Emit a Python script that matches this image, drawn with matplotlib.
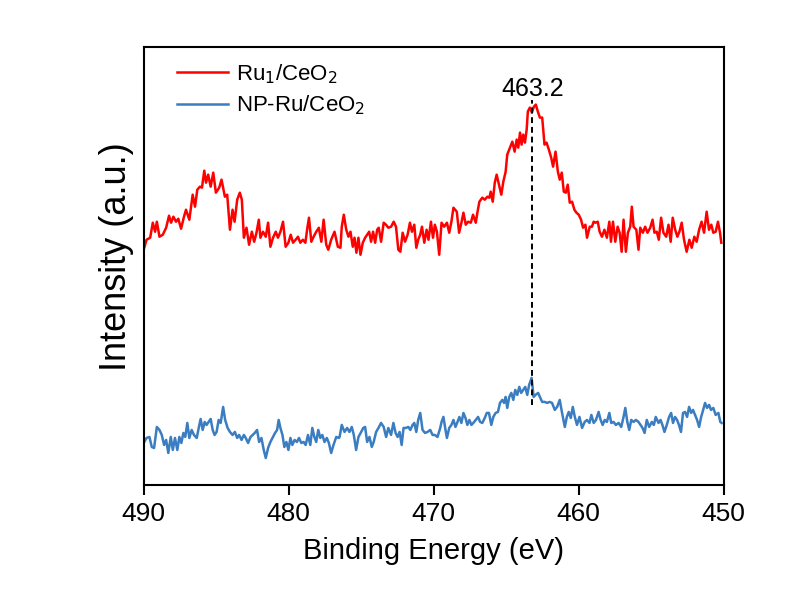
import numpy as np
import matplotlib
matplotlib.use('Agg')
import matplotlib.pyplot as plt

plt.rcParams['font.family'] = ['Liberation Sans', 'DejaVu Sans']

# Ru 3p XPS region (arbitrary units)
be_ru1 = [490.0, 489.8, 489.55, 489.37, 489.21, 489.09, 488.91, 488.68, 488.45,
          488.25, 488.11, 487.95, 487.77, 487.61, 487.42, 487.22, 487.08,
          486.85, 486.62, 486.46, 486.3, 486.12, 485.98, 485.82, 485.7,
          485.55, 485.38, 485.2, 485.02, 484.79, 484.63, 484.4, 484.24,
          484.05, 483.87, 483.73, 483.55, 483.37, 483.23, 483.09, 482.91,
          482.73, 482.54, 482.38, 482.22, 482.06, 481.95, 481.77, 481.58,
          481.42, 481.26, 481.08, 480.89, 480.74, 480.57, 480.39, 480.21,
          480.02, 479.86, 479.7, 479.52, 479.36, 479.2, 479.02, 478.85,
          478.71, 478.6, 478.44, 478.28, 478.1, 477.92, 477.75, 477.59,
          477.41, 477.27, 477.07, 476.84, 476.61, 476.43, 476.34, 476.2,
          476.03, 475.88, 475.74, 475.58, 475.46, 475.33, 475.19, 475.05,
          474.89, 474.73, 474.59, 474.45, 474.32, 474.18, 474.04, 473.9,
          473.79, 473.63, 473.45, 473.29, 473.13, 472.94, 472.76, 472.6,
          472.44, 472.3, 472.14, 471.98, 471.8, 471.64, 471.5, 471.34,
          471.2, 471.07, 470.93, 470.81, 470.65, 470.49, 470.36, 470.19,
          470.05, 469.92, 469.78, 469.62, 469.46, 469.28, 469.09, 468.93,
          468.78, 468.64, 468.41, 468.25, 468.09, 467.95, 467.79, 467.63,
          467.44, 467.29, 467.1, 466.99, 466.85, 466.65, 466.48, 466.3,
          466.16, 466.07, 465.93, 465.79, 465.66, 465.5, 465.34, 465.2,
          465.04, 464.93, 464.74, 464.58, 464.42, 464.28, 464.17, 464.05,
          463.94, 463.83, 463.71, 463.59, 463.51, 463.37, 463.23, 463.09,
          462.96, 462.82, 462.68, 462.52, 462.36, 462.22, 462.06, 461.9,
          461.77, 461.6, 461.44, 461.31, 461.17, 461.03, 460.89, 460.76,
          460.62, 460.46, 460.3, 460.16, 460.0, 459.84, 459.7, 459.54,
          459.43, 459.24, 459.09, 458.97, 458.85, 458.69, 458.56, 458.4,
          458.23, 458.06, 457.89, 457.78, 457.64, 457.48, 457.32, 457.18,
          457.04, 456.91, 456.75, 456.61, 456.45, 456.34, 456.22, 456.03,
          455.88, 455.76, 455.58, 455.42, 455.26, 455.07, 454.91, 454.78,
          454.62, 454.48, 454.32, 454.16, 453.97, 453.81, 453.66, 453.52,
          453.35, 453.2, 453.06, 452.9, 452.74, 452.56, 452.37, 452.21,
          452.03, 451.87, 451.7, 451.53, 451.36, 451.18, 451.02, 450.86,
          450.72, 450.56, 450.4, 450.26, 450.17]
int_ru1 = [235, 245, 247, 262, 253, 263, 248, 250, 257, 269, 262, 268, 263,
           266, 256, 268, 275, 265, 290, 278, 295, 298, 297, 314, 302, 310,
           298, 312, 292, 297, 305, 288, 290, 255, 275, 263, 285, 292, 285,
           247, 257, 240, 253, 243, 252, 265, 247, 253, 248, 262, 238, 247,
           253, 247, 253, 263, 238, 242, 250, 242, 245, 248, 242, 245, 242,
           257, 267, 243, 248, 253, 257, 243, 265, 240, 235, 245, 253, 238,
           237, 258, 270, 255, 248, 253, 238, 247, 232, 247, 230, 242, 247,
           250, 253, 243, 253, 242, 255, 257, 243, 262, 260, 257, 258, 263,
           258, 235, 233, 252, 243, 250, 262, 253, 260, 237, 245, 250, 258,
           242, 255, 245, 263, 247, 260, 253, 230, 262, 258, 262, 252, 263,
           277, 273, 252, 262, 272, 260, 263, 262, 270, 262, 272, 283, 287,
           285, 288, 287, 293, 283, 302, 310, 300, 290, 303, 313, 330, 337,
           343, 333, 345, 337, 352, 340, 350, 342, 355, 373, 377, 372, 378,
           380, 373, 367, 367, 340, 342, 335, 327, 318, 333, 313, 305, 312,
           293, 292, 300, 282, 283, 275, 272, 270, 265, 257, 260, 247, 258,
           258, 263, 262, 263, 253, 248, 255, 247, 263, 243, 263, 243, 258,
           252, 233, 265, 233, 252, 258, 278, 258, 255, 235, 257, 252, 258,
           252, 257, 265, 252, 253, 245, 267, 252, 248, 260, 243, 267, 255,
           248, 253, 262, 245, 233, 245, 237, 248, 243, 255, 263, 252, 273,
           255, 260, 252, 253, 263, 252, 242]

be_np = [490.0, 489.8, 489.6, 489.44, 489.28, 489.09, 488.91, 488.75, 488.59,
         488.45, 488.3, 488.13, 487.99, 487.84, 487.68, 487.54, 487.4, 487.26,
         487.13, 486.99, 486.85, 486.69, 486.53, 486.34, 486.19, 486.07,
         485.93, 485.79, 485.66, 485.52, 485.38, 485.24, 485.11, 484.97,
         484.83, 484.69, 484.52, 484.38, 484.21, 484.05, 483.87, 483.71,
         483.55, 483.42, 483.25, 483.09, 482.96, 482.8, 482.63, 482.49,
         482.34, 482.18, 482.04, 481.88, 481.72, 481.58, 481.42, 481.26,
         481.08, 480.94, 480.8, 480.69, 480.57, 480.43, 480.3, 480.16, 480.02,
         479.88, 479.75, 479.59, 479.43, 479.29, 479.13, 478.97, 478.83,
         478.67, 478.51, 478.37, 478.23, 478.1, 477.96, 477.82, 477.68,
         477.53, 477.37, 477.23, 477.07, 476.91, 476.72, 476.54, 476.49,
         476.34, 476.15, 475.97, 475.81, 475.65, 475.51, 475.35, 475.19,
         475.0, 474.86, 474.73, 474.59, 474.43, 474.27, 474.14, 473.97,
         473.81, 473.63, 473.45, 473.28, 473.13, 472.94, 472.78, 472.63,
         472.49, 472.35, 472.21, 472.08, 471.91, 471.75, 471.61, 471.46,
         471.34, 471.2, 471.07, 470.93, 470.77, 470.6, 470.43, 470.24, 470.08,
         469.92, 469.74, 469.55, 469.46, 469.33, 469.21, 469.09, 468.93,
         468.78, 468.64, 468.5, 468.36, 468.23, 468.09, 467.95, 467.81,
         467.68, 467.54, 467.4, 467.27, 467.1, 466.94, 466.8, 466.65, 466.48,
         466.34, 466.19, 466.03, 465.89, 465.73, 465.57, 465.43, 465.27,
         465.15, 465.04, 464.93, 464.79, 464.65, 464.51, 464.38, 464.24,
         464.1, 463.97, 463.83, 463.69, 463.55, 463.42, 463.25, 463.11,
         462.98, 462.8, 462.68, 462.52, 462.34, 462.18, 462.01, 461.84,
         461.65, 461.49, 461.31, 461.15, 460.96, 460.82, 460.69, 460.55,
         460.41, 460.27, 460.12, 459.95, 459.77, 459.59, 459.43, 459.26,
         459.13, 458.97, 458.81, 458.63, 458.49, 458.35, 458.21, 458.06,
         457.89, 457.76, 457.6, 457.44, 457.25, 457.07, 456.91, 456.79,
         456.65, 456.52, 456.38, 456.22, 456.06, 455.88, 455.74, 455.6,
         455.46, 455.31, 455.14, 454.96, 454.82, 454.69, 454.5, 454.36,
         454.23, 454.09, 453.93, 453.77, 453.63, 453.5, 453.36, 453.22,
         453.09, 452.95, 452.81, 452.67, 452.53, 452.39, 452.25, 452.12,
         451.98, 451.84, 451.7, 451.56, 451.42, 451.29, 451.15, 451.01,
         450.88, 450.72, 450.56, 450.37, 450.24, 450.15]
int_np = [42, 47, 48, 38, 37, 58, 55, 50, 40, 45, 32, 48, 35, 47, 35, 48, 42,
          52, 48, 62, 47, 55, 50, 47, 58, 66, 55, 63, 60, 63, 66, 55, 50, 53,
          65, 62, 78, 65, 57, 53, 50, 53, 47, 50, 45, 50, 47, 42, 48, 50, 52,
          55, 43, 47, 35, 27, 37, 43, 48, 52, 55, 65, 57, 50, 38, 43, 35, 47,
          40, 45, 43, 47, 42, 43, 40, 50, 40, 57, 48, 43, 55, 47, 50, 43, 47,
          42, 32, 40, 48, 47, 48, 60, 53, 57, 53, 58, 50, 35, 48, 53, 57, 58,
          43, 48, 38, 43, 53, 57, 62, 58, 48, 57, 50, 62, 52, 48, 53, 40, 57,
          57, 58, 55, 60, 62, 53, 65, 72, 55, 52, 53, 55, 50, 50, 48, 57, 63,
          68, 57, 47, 57, 60, 65, 58, 63, 68, 62, 72, 67, 60, 65, 60, 62, 65,
          68, 63, 62, 67, 72, 72, 60, 68, 72, 73, 82, 85, 82, 88, 77, 88, 92,
          85, 95, 90, 98, 92, 95, 98, 90, 100, 107, 88, 90, 92, 88, 83, 83,
          82, 83, 82, 75, 78, 85, 72, 58, 68, 73, 67, 78, 68, 60, 68, 57, 63,
          65, 62, 70, 62, 65, 73, 65, 60, 65, 63, 72, 62, 63, 60, 62, 58, 68,
          77, 63, 55, 65, 63, 65, 63, 60, 57, 52, 65, 58, 63, 60, 68, 62, 65,
          60, 53, 60, 68, 72, 62, 68, 65, 60, 53, 72, 73, 68, 78, 72, 75, 70,
          65, 58, 68, 75, 82, 77, 80, 75, 77, 70, 72, 63, 62]

peak_be = 463.2
peak_range = [80, 385]

fig, ax = plt.subplots(figsize=(7.85, 6.04), dpi=100)
fig.subplots_adjust(left=0.183, right=0.922, bottom=0.197, top=0.923)

ax.plot(be_ru1, int_ru1, color='#FF0000', lw=1.8, label='Ru$_1$/CeO$_2$')
ax.plot(be_np, int_np, color='#3A7DC0', lw=1.8, label='NP-Ru/CeO$_2$')

# peak position marker
ax.plot([peak_be, peak_be], peak_range, color='k', lw=1.4, ls=(0, (3, 2)))
ax.text(peak_be, peak_range[1] - 1, f'{peak_be}', ha='center', va='bottom',
        fontsize=18)

ax.set_xlim(490, 450)
ax.set_ylim(0, 438)
ax.set_xticks(np.arange(490, 449, -10))
ax.set_yticks([])
ax.tick_params(axis='x', direction='out', length=7, width=1.5, labelsize=19,
               pad=5)
for sp in ax.spines.values():
    sp.set_linewidth(1.5)

ax.set_xlabel('Binding Energy (eV)', fontsize=21, labelpad=8)
ax.set_ylabel('Intensity (a.u.)', fontsize=26)
ax.yaxis.set_label_coords(-0.016, 0.52)

ax.legend(loc='upper left', frameon=False, fontsize=16, handlelength=2.3,
          handletextpad=0.35, labelspacing=0.35, borderaxespad=0.3,
          bbox_to_anchor=(0.031, 1.0))

plt.savefig('out.png', dpi=100)
plt.close('all')
